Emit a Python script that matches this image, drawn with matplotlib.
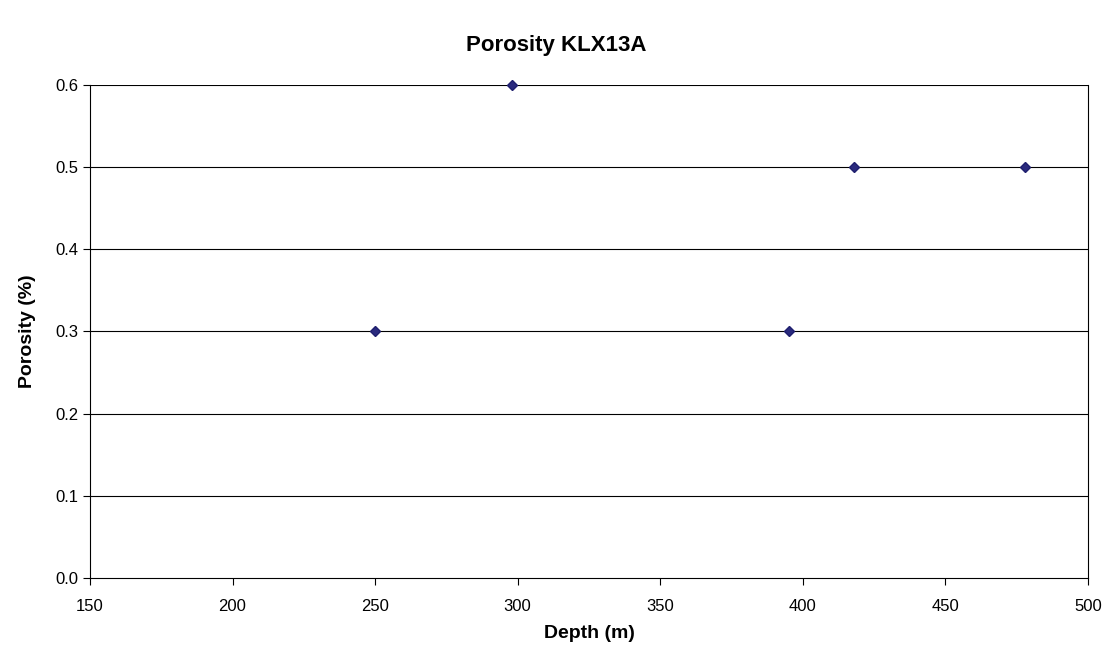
import matplotlib.pyplot as plt
import numpy as np

depth = [250, 298, 395, 418, 478]
porosity = [0.3, 0.6, 0.3, 0.5, 0.5]

x_ticks = [150, 200, 250, 300, 350, 400, 450, 500]
y_ticks = [0.0, 0.1, 0.2, 0.3, 0.4, 0.5, 0.6]

plt.rcParams["font.family"] = ["Liberation Sans", "DejaVu Sans"]

fig = plt.figure(figsize=(11.12, 6.62), dpi=100)
ax = fig.add_axes([0.0809, 0.1269, 0.8975, 0.7447])

for y in y_ticks[1:]:
    ax.axhline(y, color="#000000", lw=0.8, zorder=1)

ax.plot(depth, porosity, ls="none", marker="D", markersize=5.5,
        color="#2A2A7E", mec="#1F1F6E", zorder=3, clip_on=False)

ax.set_xlim(150, 500)
ax.set_ylim(0, 0.6)
ax.set_xticks(x_ticks)
ax.set_yticks(y_ticks)
ax.set_yticklabels([f"{v:.1f}" for v in y_ticks])
ax.tick_params(direction="out", length=5, width=0.8, labelsize=12, color="#000000")
ax.tick_params(axis="x", pad=10)

for side in ("left", "bottom", "right"):
    ax.spines[side].set_color("#000000")
    ax.spines[side].set_linewidth(0.8)
ax.spines["top"].set_visible(False)

ax.set_xlabel("Depth (m)", fontsize=14, fontweight="bold", labelpad=8)
ax.set_ylabel("Porosity (%)", fontsize=14, fontweight="bold", labelpad=14)
fig.text(0.5, 0.931, "Porosity KLX13A", ha="center", va="center",
         fontsize=16, fontweight="bold")

fig.savefig("out.png", dpi=100, facecolor="white")
